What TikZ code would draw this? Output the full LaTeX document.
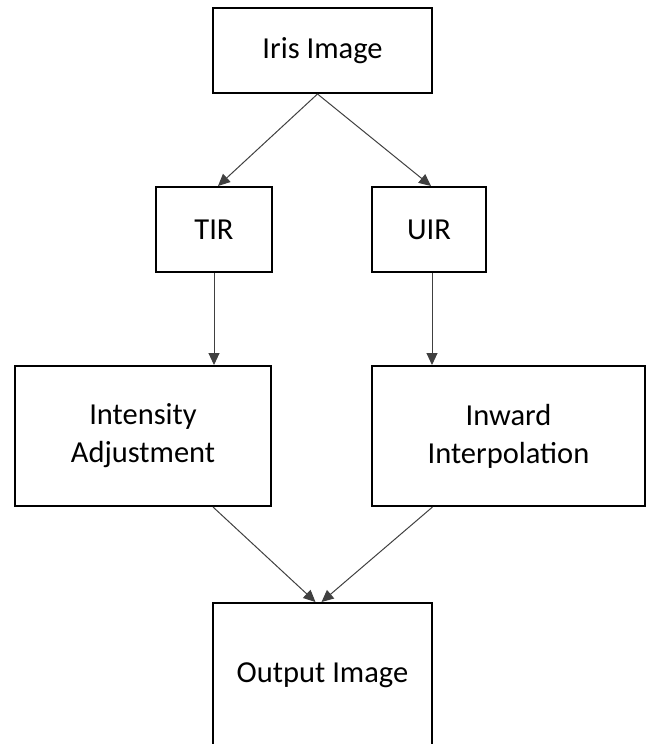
\documentclass[tikz,border=0pt]{standalone}
\usepackage{fontspec}
\setmainfont{Carlito}
\usetikzlibrary{arrows.meta,calc}
\begin{document}
\begin{tikzpicture}[x=1pt,y=-1pt,
  box/.style={draw=black,line width=2pt,fill=white,inner sep=0pt,align=center,
    font=\fontsize{30.5}{38}\selectfont},
  conn/.style={draw=black!75,line width=1pt,-{Triangle[length=12pt,width=11pt]},shorten >=0pt}]
\useasboundingbox (0,0) rectangle (647,744);
\node[box,minimum width=219pt,minimum height=85pt] (iris) at (322.5,50.5) {Iris Image};
\node[box,minimum width=116pt,minimum height=85pt] (tir) at (214,229.5) {TIR};
\node[box,minimum width=114pt,minimum height=85pt] (uir) at (429,229.5) {UIR};
\node[box,minimum width=256pt,minimum height=140pt] (ia) at (143,436) {Intensity\\Adjustment};
\node[box,minimum width=273pt,minimum height=140pt] (ii) at (508.5,436) {Inward\\Interpolation};
\node[box,minimum width=219pt,minimum height=144pt] (out) at (322.5,675) {Output Image};
\coordinate (irisb) at ($(iris.south)+(-5,0)$);
\coordinate (tirt) at ($(tir.north)+(4,0)$);
\coordinate (uirt) at ($(uir.north)+(2,0)$);
\coordinate (tirb) at ($(tir.south)+(0,0)$);
\coordinate (uirb) at ($(uir.south)+(3,0)$);
\coordinate (iat) at (tirb |- ia.north);
\coordinate (iit) at (uirb |- ii.north);
\coordinate (iab) at ($(ia.south)+(70,0)$);
\coordinate (iib) at ($(ii.south)+(-76,0)$);
\coordinate (outl) at ($(out.north)+(-7,0)$);
\coordinate (outr) at ($(out.north)+(-1,0)$);
\draw[conn] (irisb) -- (tirt);
\draw[conn] (irisb) -- (uirt);
\draw[conn] (tirb) -- (iat);
\draw[conn] (uirb) -- (iit);
\draw[conn] (iab) -- (outl);
\draw[conn] (iib) -- (outr);
\end{tikzpicture}
\end{document}
